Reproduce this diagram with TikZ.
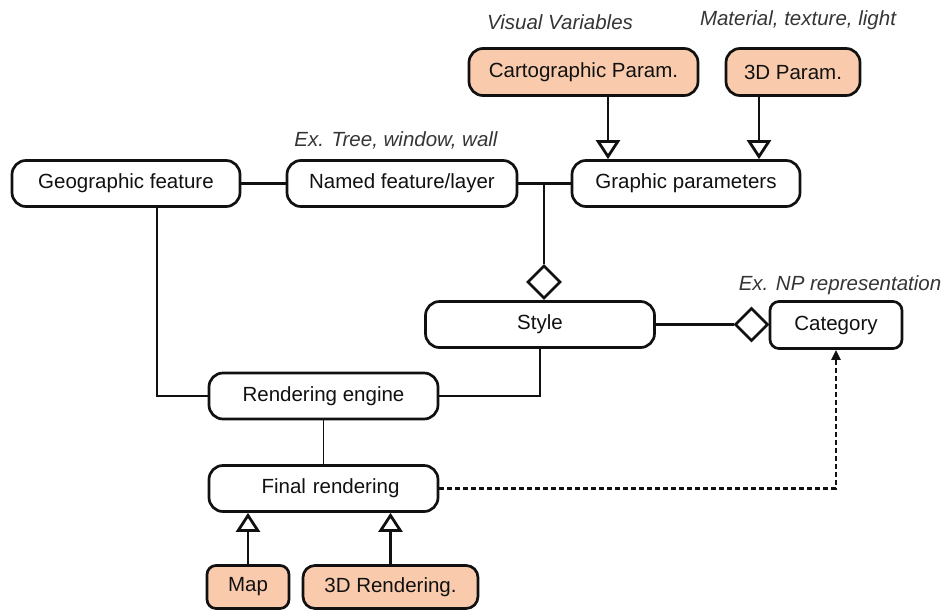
\documentclass[tikz,border=0pt]{standalone}
\usepackage{fontspec}
\setmainfont{Liberation Sans}
\usetikzlibrary{arrows.meta,shapes.geometric}
\definecolor{peach}{HTML}{F9CBAC}
\definecolor{ink}{HTML}{111111}
\begin{document}
\begin{tikzpicture}[x=1pt,y=-1pt,
  every node/.style={font=\fontsize{20.5}{24}\selectfont, text=ink},
  box/.style={draw=ink, line width=2.7pt, rounded corners=14pt, minimum height=46pt, inner sep=0pt},
  param/.style={box, fill=peach},
  note/.style={font=\fontsize{20.5}{24}\selectfont\itshape, text=ink!85},
  agg/.style={draw=ink, diamond, line width=2.7pt, fill=white, minimum width=33pt, minimum height=33pt, inner sep=0pt, aspect=1},
  thick link/.style={draw=ink, line width=2.7pt},
  thin link/.style={draw=ink, line width=1.7pt},
  generalise/.style={draw=ink, line width=2.8pt, -{Triangle[open, width=24pt, length=19pt]}},
  depends/.style={draw=ink, line width=2.3pt, dash pattern=on 5pt off 3pt, -{Triangle[width=9pt, length=10pt]}}
]
\useasboundingbox (0,0) rectangle (943,611);

% parameter sources
\node[param, minimum width=229pt, minimum height=47pt] (carto) at (583.5,72) {Cartographic Param.};
\node[param, minimum width=134pt, minimum height=47pt] (threed) at (793,72) {3D Param.};
\node[note] (vv) at (560,22) {Visual Variables};
\node[note] (mtl) at (798,20) {Material, texture, light};

% main row
\node[box, minimum width=228pt] (geo) at (126,183.5) {Geographic feature};
\node[box, minimum width=230pt] (named) at (402,183.5) {Named feature/layer};
\node[box, minimum width=228pt] (graphic) at (686,183.5) {Graphic parameters};
\node[note] (ex1) at (396,140) {Ex. Tree, window, wall};

% style and category
\node[box, minimum width=229pt] (style) at (540,324.5) {Style};
\node[box, rounded corners=9pt, minimum width=132pt, minimum height=47pt] (category) at (836,325) {Category};
\node[note] (ex2) at (840,285) {Ex. NP representation};
\node[agg] (d1) at (544,282) {};
\node[agg] (d2) at (751.5,324.5) {};

% rendering chain
\node[box, minimum width=229pt] (render) at (323.5,396) {Rendering engine};
\node[box, minimum width=229pt, text width=229pt, align=center] (final) at (323.5,488.5) {\hspace*{14pt}Final rendering};
\node[param, minimum width=82pt, minimum height=43pt, rounded corners=9pt] (map) at (248,587) {Map};
\node[param, minimum width=175pt, minimum height=43pt, rounded corners=12pt] (r3d) at (390.5,587) {3D Rendering.};

% junction points
\coordinate (j) at (544,183.5);
\coordinate (geodrop) at (157,207);
\coordinate (cartox) at (608,0);
\coordinate (threedx) at (759,0);

% connectors
\draw[thick link] (geo.east) -- (named.west);
\draw[thick link] (named.east) -- (graphic.west);
\draw[thick link] (j) -- (d1.north);
\draw[thick link] (d1.south) -- (style.north -| d1.south);
\draw[generalise] (carto.south -| cartox) -- (graphic.north -| cartox);
\draw[generalise] (threed.south -| threedx) -- (graphic.north -| threedx);
\draw[draw=ink, line width=2.2pt] (style.east) -- (d2.west);
\draw[thin link] (style.south) |- (render.east);
\draw[thin link] (geodrop) |- (render.west);
\draw[thin link] (render.south) -- (final.north);
\draw[generalise] (map.north) -- (final.south -| map.north);
\draw[generalise] (r3d.north) -- (final.south -| r3d.north);
\draw[depends] (final.east) -| (category.south);
\end{tikzpicture}
\end{document}
